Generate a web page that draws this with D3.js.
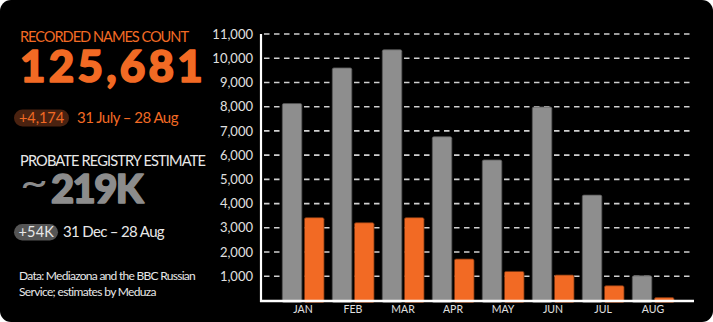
<!DOCTYPE html>
<html>
<head>
<meta charset="utf-8">
<script src="https://cdn.jsdelivr.net/npm/d3@7/dist/d3.min.js"></script>
<style>
  html, body { margin: 0; padding: 0; background: #ffffff; }
  svg { display: block; }
  text { font-family: Lato, "Open Sans", sans-serif; }
</style>
</head>
<body>
<svg id="chart" width="713" height="322"></svg>
<script>
// Monthly counts, January to August
const months = ["JAN", "FEB", "MAR", "APR", "MAY", "JUN", "JUL", "AUG"];
const probateValues = [8130, 9600, 10350, 6760, 5800, 7990, 4350, 1020];
const recordedValues = [3420, 3210, 3420, 1710, 1200, 1050, 610, 120];
const yTickValues = [1000, 2000, 3000, 4000, 5000, 6000, 7000, 8000, 9000, 10000, 11000];
const seriesKeys = ["probate", "recorded"];

const ORANGE = "#f26a24";
const GREY_BAR = "#8e8e8e";
const GREY_TEXT = "#8c8c8c";
const LIGHT = "#e8e8e8";

const svg = d3.select("#chart");

// Spread or tighten a text's letters so it spans the given width
function fitWidth(sel, width) {
  const natural = sel.node().getComputedTextLength();
  const n = sel.text().length;
  sel.attr("letter-spacing", ((width - natural) / n).toFixed(2));
  return sel;
}

function label(parent, x, y, str, opts) {
  const t = parent.append("text")
    .attr("x", x).attr("y", y)
    .attr("fill", opts.fill)
    .attr("font-size", opts.size)
    .text(str);
  if (opts.family) t.attr("font-family", opts.family);
  if (opts.weight) t.attr("font-weight", opts.weight);
  if (opts.heavy) t.attr("stroke", opts.fill).attr("stroke-width", opts.heavy).attr("stroke-linejoin", "round");
  if (opts.width) fitWidth(t, opts.width);
  return t;
}

// Card background
svg.append("rect")
  .attr("x", 0).attr("y", 0).attr("width", 713).attr("height", 322)
  .attr("rx", 11).attr("fill", "#000");

// ---- Left panel: headline figures ----
const left = svg.append("g");

label(left, 20, 42, "RECORDED NAMES COUNT", { fill: ORANGE, size: 14.6, width: 168 });
label(left, 20, 82, "125,681", { fill: ORANGE, size: 44, family: "Inter, Lato, sans-serif", weight: 900, heavy: 1.6, width: 186 });

left.append("rect")
  .attr("x", 14).attr("y", 109.5).attr("width", 55).attr("height", 17)
  .attr("rx", 8.5).attr("fill", "#4a2210");
label(left, 19, 123, "+4,174", { fill: ORANGE, size: 14.5, width: 45 });
label(left, 77, 123, "31 July – 28 Aug", { fill: ORANGE, size: 15, width: 101 });

label(left, 20, 165.5, "PROBATE REGISTRY ESTIMATE", { fill: LIGHT, size: 14.6, width: 185 });
left.append("text")
  .attr("x", 20).attr("y", 196)
  .attr("fill", GREY_TEXT)
  .attr("font-family", "DejaVu Sans, sans-serif")
  .attr("font-size", 40)
  .attr("textLength", 28).attr("lengthAdjust", "spacingAndGlyphs")
  .text("~");
label(left, 51, 202.5, "219K", { fill: GREY_TEXT, size: 40, family: "Inter, Lato, sans-serif", weight: 900, heavy: 1.6, width: 91 });

left.append("rect")
  .attr("x", 14).attr("y", 224).attr("width", 44).attr("height", 16.5)
  .attr("rx", 8.2).attr("fill", "#555555");
label(left, 18.5, 237, "+54K", { fill: LIGHT, size: 14.5, width: 35.5 });
label(left, 63, 237, "31 Dec – 28 Aug", { fill: LIGHT, size: 15, width: 101 });

label(left, 19, 280, "Data: Mediazona and the BBC Russian", { fill: LIGHT, size: 12, width: 176 });
label(left, 19, 296, "Service; estimates by Meduza", { fill: LIGHT, size: 12, width: 137 });

// ---- Bar chart ----
const y = d3.scaleLinear().domain([0, 11000]).range([300.5, 34]);
const x0 = d3.scaleBand().domain(months).range([278, 678]).padding(0);
const x1 = d3.scaleBand().domain(seriesKeys).range([4.3, 46]).paddingInner(0.12);

// Dashed grid lines
svg.append("g")
  .selectAll("line")
  .data(yTickValues)
  .join("line")
  .attr("x1", 264).attr("x2", 690)
  .attr("y1", d => y(d)).attr("y2", d => y(d))
  .attr("stroke", "#d0d0d0")
  .attr("stroke-width", 1.6)
  .attr("stroke-dasharray", "5.5,4.5");

const rows = months.map((m, i) => ({ month: m, probate: probateValues[i], recorded: recordedValues[i] }));

const groups = svg.append("g")
  .selectAll("g")
  .data(rows)
  .join("g")
  .attr("transform", d => `translate(${x0(d.month)},0)`);

groups.selectAll("rect")
  .data(d => seriesKeys.map(k => ({ key: k, value: d[k] })))
  .join("rect")
  .attr("x", d => x1(d.key))
  .attr("width", x1.bandwidth())
  .attr("y", d => y(d.value))
  .attr("height", d => y(0) - y(d.value) + 2)
  .attr("rx", 1.5)
  .attr("fill", d => d.key === "probate" ? GREY_BAR : ORANGE)
  .attr("stroke", d => d.key === "probate" ? "#555" : "#7a3510")
  .attr("stroke-width", 0.8);

// Y axis labels
const yAxis = svg.append("g")
  .attr("transform", "translate(253,0)")
  .call(d3.axisLeft(y).tickValues(yTickValues).tickSize(0).tickPadding(0).tickFormat(d3.format(",")));
yAxis.select(".domain").remove();
yAxis.selectAll("text")
  .attr("fill", "#e0e0e0")
  .attr("font-size", 13)
  .attr("font-family", "Lato, \"Open Sans\", sans-serif");

// X axis labels
const xAxis = svg.append("g")
  .attr("transform", "translate(0,301)")
  .call(d3.axisBottom(x0).tickSize(0).tickPadding(4.5));
xAxis.select(".domain").remove();
xAxis.selectAll("text")
  .attr("fill", "#e0e0e0")
  .attr("font-size", 10.5)
  .attr("font-family", "Lato, \"Open Sans\", sans-serif");

// Axis frame lines
svg.append("line")
  .attr("x1", 261).attr("x2", 261).attr("y1", 34).attr("y2", 302)
  .attr("stroke", "#fff").attr("stroke-width", 2.2);
svg.append("line")
  .attr("x1", 260).attr("x2", 694).attr("y1", 301).attr("y2", 301)
  .attr("stroke", "#fff").attr("stroke-width", 2.4);
</script>
</body>
</html>
